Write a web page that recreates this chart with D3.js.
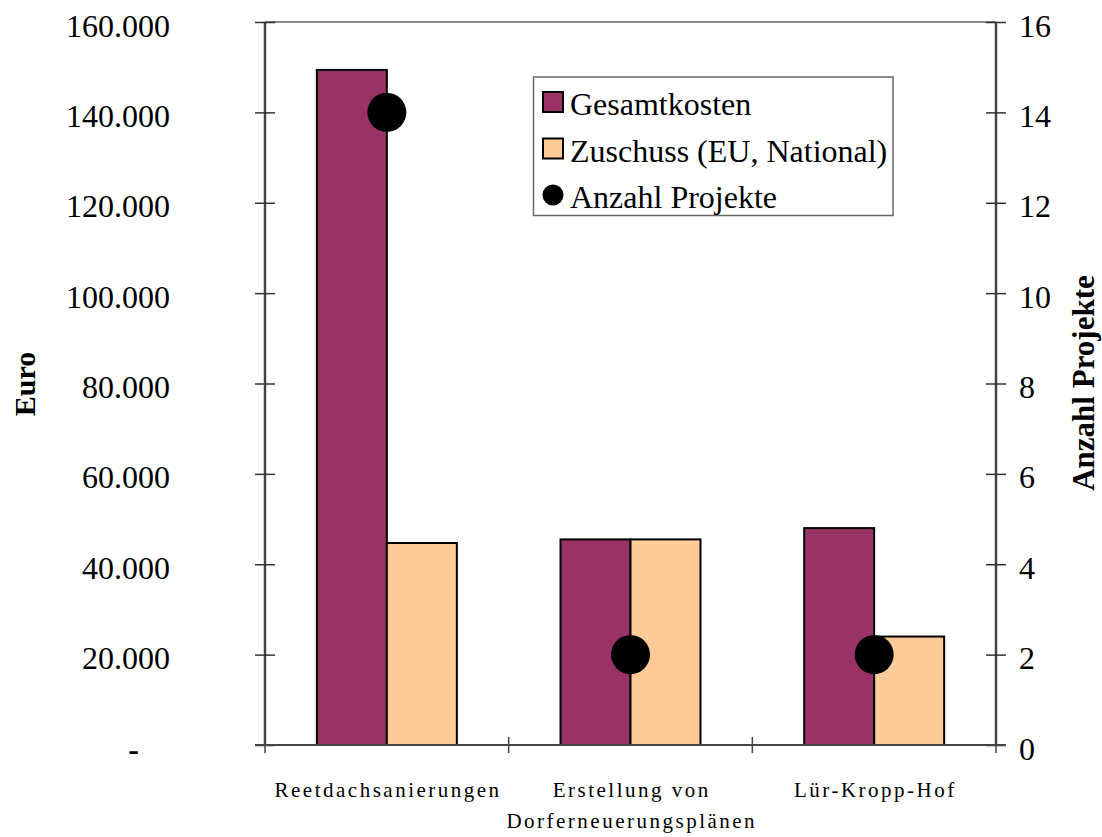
<!DOCTYPE html>
<html>
<head>
<meta charset="utf-8">
<script src="https://cdn.jsdelivr.net/npm/d3@7"></script>
<style>
  body { margin: 0; background: #fff; }
  text { font-family: "Liberation Serif", "Times New Roman", serif; }
</style>
</head>
<body>
<svg id="chart" width="1102" height="837"></svg>
<script>
// data
const categories = ["Reetdachsanierungen", "Erstellung von\nDorferneuerungsplänen", "Lür-Kropp-Hof"];
const gesamtkosten = [149400, 45500, 48000];
const zuschuss = [44700, 45500, 24000];
const anzahlProjekte = [14, 2, 2];
const leftTicks = [0, 20000, 40000, 60000, 80000, 100000, 120000, 140000, 160000];
const rightTicks = [0, 2, 4, 6, 8, 10, 12, 14, 16];

const svg = d3.select("#chart");
const pLeft = 265, pRight = 996, pTop = 22, pBottom = 745;

const x = d3.scaleBand().domain(categories).range([pLeft, pRight]).paddingInner(0).paddingOuter(0);
const yL = d3.scaleLinear().domain([0, 160000]).range([pBottom, pTop]);
const yR = d3.scaleLinear().domain([0, 16]).range([pBottom, pTop]);

const barW = 70;
const fmt = (d) => d === 0 ? "-" : d3.format(",")(d).replace(/,/g, ".");

// top frame line
svg.append("line")
  .attr("x1", pLeft).attr("x2", pRight)
  .attr("y1", pTop).attr("y2", pTop)
  .attr("stroke", "#888").attr("stroke-width", 2);

// bars
const g = svg.append("g");
categories.forEach((c, i) => {
  const cx = x(c) + x.bandwidth() / 2;
  g.append("rect")
    .attr("x", cx - barW).attr("y", yL(gesamtkosten[i]))
    .attr("width", barW).attr("height", pBottom - yL(gesamtkosten[i]))
    .attr("fill", "#993366").attr("stroke", "#000").attr("stroke-width", 2);
  g.append("rect")
    .attr("x", cx).attr("y", yL(zuschuss[i]))
    .attr("width", barW).attr("height", pBottom - yL(zuschuss[i]))
    .attr("fill", "#ffcc99").attr("stroke", "#000").attr("stroke-width", 2);
});

// left axis
const axL = svg.append("g")
  .attr("transform", "translate(" + pLeft + ",0)")
  .call(d3.axisLeft(yL).tickValues(leftTicks).tickFormat(fmt).tickSize(10));
axL.selectAll(".tick line").attr("x2", 10).attr("x1", -10).attr("stroke", "#333").attr("stroke-width", 1.5);
axL.select(".domain").attr("stroke", "#444").attr("stroke-width", 2.5).attr("d", "M0," + pTop + "V" + pBottom);
axL.selectAll(".tick text")
  .attr("font-size", 32).attr("fill", "#000")
  .attr("font-family", "Liberation Serif")
  .attr("dy", 14)
  .attr("text-anchor", (d) => d === 0 ? "middle" : "end")
  .attr("font-weight", (d) => d === 0 ? "bold" : null)
  .attr("x", (d) => d === 0 ? 133.5 - pLeft : 170 - pLeft);

// right axis
const axR = svg.append("g")
  .attr("transform", "translate(" + pRight + ",0)")
  .call(d3.axisRight(yR).tickValues(rightTicks).tickSize(10));
axR.selectAll(".tick line").attr("x1", -10).attr("x2", 10).attr("stroke", "#333").attr("stroke-width", 1.5);
axR.select(".domain").attr("stroke", "#444").attr("stroke-width", 2.5).attr("d", "M0," + pTop + "V" + pBottom);
axR.selectAll(".tick text")
  .attr("font-size", 32).attr("fill", "#000")
  .attr("font-family", "Liberation Serif")
  .attr("x", 23).attr("dy", 14);

// x axis
const axX = svg.append("g").attr("transform", "translate(0," + pBottom + ")");
axX.append("line").attr("x1", pLeft - 10).attr("x2", pRight + 10)
  .attr("stroke", "#444").attr("stroke-width", 2);
const xTickPos = categories.map((c) => x(c)).concat([pRight]);
axX.selectAll(".xt").data(xTickPos).enter().append("line")
  .attr("x1", (d) => d).attr("x2", (d) => d)
  .attr("y1", -8).attr("y2", 8)
  .attr("stroke", "#444").attr("stroke-width", 1.5);

// category labels
categories.forEach((c) => {
  const lines = c.split("\n");
  const cx = x(c) + x.bandwidth() / 2 + 1.25;
  const t = svg.append("text")
    .attr("x", cx)
    .attr("y", 797)
    .attr("text-anchor", "middle")
    .attr("font-size", 21)
    .attr("letter-spacing", 2.5);
  lines.forEach((l, j) => {
    t.append("tspan").attr("x", cx).attr("dy", j === 0 ? 0 : 31).text(l);
  });
});

// dots
svg.append("g").selectAll("circle")
  .data(anzahlProjekte)
  .enter().append("circle")
  .attr("cx", (d, i) => x(categories[i]) + x.bandwidth() / 2)
  .attr("cy", (d) => yR(d))
  .attr("r", 19.5)
  .attr("fill", "#000");

// axis titles
svg.append("text")
  .attr("transform", "translate(35,384)rotate(-90)")
  .attr("text-anchor", "middle")
  .attr("font-size", 30).attr("font-weight", "bold")
  .text("Euro");
svg.append("text")
  .attr("transform", "translate(1094,383)rotate(-90)")
  .attr("text-anchor", "middle")
  .attr("font-size", 31).attr("font-weight", "bold")
  .text("Anzahl Projekte");

// legend
const leg = svg.append("g");
leg.append("rect")
  .attr("x", 533.5).attr("y", 77).attr("width", 359.5).attr("height", 138.5)
  .attr("fill", "#fff").attr("stroke", "#666").attr("stroke-width", 1.5);
const legItems = [
  { label: "Gesamtkosten", color: "#993366", type: "rect" },
  { label: "Zuschuss (EU, National)", color: "#ffcc99", type: "rect" },
  { label: "Anzahl Projekte", color: "#000", type: "circle" }
];
legItems.forEach((d, i) => {
  const base = 115 + i * 46.5;
  if (d.type === "rect") {
    leg.append("rect").attr("x", 543).attr("y", base - 23).attr("width", 20).attr("height", 20)
      .attr("fill", d.color).attr("stroke", "#000").attr("stroke-width", 2);
  } else {
    leg.append("circle").attr("cx", 553).attr("cy", base - 13).attr("r", 10.5).attr("fill", d.color);
  }
  leg.append("text").attr("x", 570).attr("y", base)
    .attr("font-size", 32).text(d.label);
});
</script>
</body>
</html>
